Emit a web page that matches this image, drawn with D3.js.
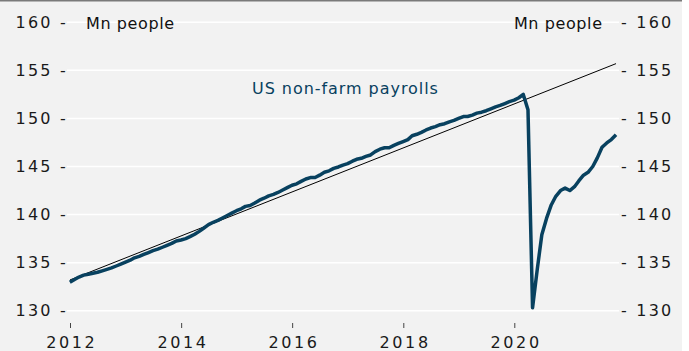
<!DOCTYPE html>
<html>
<head>
<meta charset="utf-8">
<script src="https://cdn.jsdelivr.net/npm/d3@7"></script>
<style>
  html, body { margin: 0; padding: 0; background: #ffffff; }
  svg { display: block; }
  text { font-family: "DejaVu Sans", sans-serif; }
</style>
</head>
<body>
<svg id="chart" width="689" height="351"></svg>
<script>
// US non-farm payrolls, millions of people, monthly from Dec 2011 to Oct 2021
const firstMonth = [2011, 11]; // year, month index (0 = January)
const payrolls = [
  132.96,
  // 2012
  133.25, 133.5, 133.7, 133.8, 133.9, 134.0, 134.15, 134.3, 134.45, 134.65, 134.85, 135.05,
  // 2013
  135.25, 135.5, 135.65, 135.85, 136.05, 136.25, 136.4, 136.6, 136.8, 137.0, 137.25, 137.35,
  // 2014
  137.5, 137.7, 137.95, 138.25, 138.6, 138.95, 139.2, 139.4, 139.65, 139.9, 140.15, 140.4,
  // 2015
  140.6, 140.85, 140.95, 141.2, 141.5, 141.7, 141.95, 142.1, 142.3, 142.55, 142.8, 143.05,
  // 2016
  143.2, 143.45, 143.7, 143.85, 143.85, 144.1, 144.4, 144.55, 144.8, 144.95, 145.15, 145.3,
  // 2017
  145.55, 145.75, 145.85, 146.05, 146.2, 146.55, 146.8, 146.95, 146.95, 147.2, 147.4, 147.6,
  // 2018
  147.8, 148.2, 148.35, 148.55, 148.8, 149.0, 149.15, 149.35, 149.45, 149.65, 149.8, 150.0,
  // 2019
  150.2, 150.2, 150.35, 150.55, 150.65, 150.8, 151.0, 151.2, 151.35, 151.55, 151.75, 151.9,
  // 2020
  152.15, 152.5, 150.9, 130.3, 134.3, 137.9, 139.6, 141.0, 141.9, 142.5, 142.75, 142.5,
  // 2021
  142.9, 143.5, 144.1, 144.4, 145.0, 145.9, 147.0, 147.45, 147.8, 148.3
];

// Straight pre-pandemic trend, given by its two end points
const trendDates = ["2012-01-01", "2021-10-31"];
const trendValues = [133.2, 155.7];

const yTicks = [130, 135, 140, 145, 150, 155, 160];
const xTickYears = [2012, 2014, 2016, 2018, 2020];
const unitLabel = "Mn people";
const seriesLabel = "US non-farm payrolls";

const svg = d3.select("#chart");
const W = 689, H = 351;

const navy = "#08415f";
const ink = "#1a1a1a";

// panel background and top rule
svg.append("rect").attr("x", 0).attr("y", 0).attr("width", 682).attr("height", H).attr("fill", "#f2f2f2");
svg.append("line").attr("x1", 0).attr("x2", 682).attr("y1", 0.75).attr("y2", 0.75)
  .attr("stroke", "#7a7a7a").attr("stroke-width", 1.5);

const x = d3.scaleTime()
  .domain([new Date(2012, 0, 1), new Date(2020, 0, 1)])
  .range([70, 514.3]);
const y = d3.scaleLinear().domain([130, 160]).range([310.7, 22.3]);

const gridLeft = 67, gridRight = 619;

// horizontal gridlines
svg.append("g").selectAll("line").data(yTicks).join("line")
  .attr("x1", gridLeft).attr("x2", gridRight)
  .attr("y1", d => y(d)).attr("y2", d => y(d))
  .attr("stroke", "#ffffff").attr("stroke-width", 1.5);

// left axis labels
const leftAxis = d3.axisLeft(y).tickValues(yTicks).tickSize(0).tickPadding(-1)
  .tickFormat(d => `${d} -`);
const gl = svg.append("g").attr("transform", `translate(${gridLeft},0)`).call(leftAxis);
gl.select(".domain").remove();
gl.selectAll("text").attr("font-size", 16).attr("fill", ink)
  .attr("letter-spacing", 2.2).attr("font-family", "DejaVu Sans");

// right axis labels
const rightAxis = d3.axisRight(y).tickValues(yTicks).tickSize(0).tickPadding(2)
  .tickFormat(d => `- ${d}`);
const gr = svg.append("g").attr("transform", `translate(${gridRight},0)`).call(rightAxis);
gr.select(".domain").remove();
gr.selectAll("text").attr("font-size", 16).attr("fill", ink)
  .attr("letter-spacing", 2.2).attr("font-family", "DejaVu Sans");

// bottom axis
const bottomAxis = d3.axisBottom(x)
  .tickValues(xTickYears.map(yr => new Date(yr, 0, 1)))
  .tickSize(5).tickPadding(9)
  .tickFormat(d3.timeFormat("%Y"));
const gb = svg.append("g").attr("transform", "translate(0,323)").call(bottomAxis);
gb.select(".domain").remove();
gb.selectAll(".tick line").attr("stroke", "#444").attr("stroke-width", 1);
gb.selectAll("text").attr("font-size", 16).attr("fill", ink)
  .attr("letter-spacing", 2.6).attr("dx", 1.3).attr("font-family", "DejaVu Sans");

// unit labels
svg.append("text").attr("x", 86).attr("y", 28.5).attr("font-size", 16)
  .attr("letter-spacing", 0.6).attr("fill", "#111").text(unitLabel);
svg.append("text").attr("x", 602.6).attr("y", 28.5).attr("font-size", 16)
  .attr("letter-spacing", 0.6).attr("text-anchor", "end").attr("fill", "#111").text(unitLabel);

// trend line
const trend = trendDates.map((d, i) => ({ date: d3.isoParse(d), value: trendValues[i] }));
svg.append("path").datum(trend)
  .attr("fill", "none").attr("stroke", "#000").attr("stroke-width", 1)
  .attr("d", d3.line().x(d => x(d.date)).y(d => y(d.value)));

// payrolls series, each month placed at its last day
const series = payrolls.map((v, i) => ({
  date: new Date(firstMonth[0], firstMonth[1] + i + 1, 0),
  value: v
}));
svg.append("path").datum(series)
  .attr("fill", "none").attr("stroke", navy).attr("stroke-width", 3.5)
  .attr("stroke-linejoin", "round").attr("stroke-linecap", "butt")
  .attr("d", d3.line().x(d => x(d.date)).y(d => y(d.value)));

// series label
svg.append("text").attr("x", 252).attr("y", 93.5).attr("font-size", 16)
  .attr("letter-spacing", 0.95).attr("fill", navy).text(seriesLabel);
</script>
</body>
</html>
